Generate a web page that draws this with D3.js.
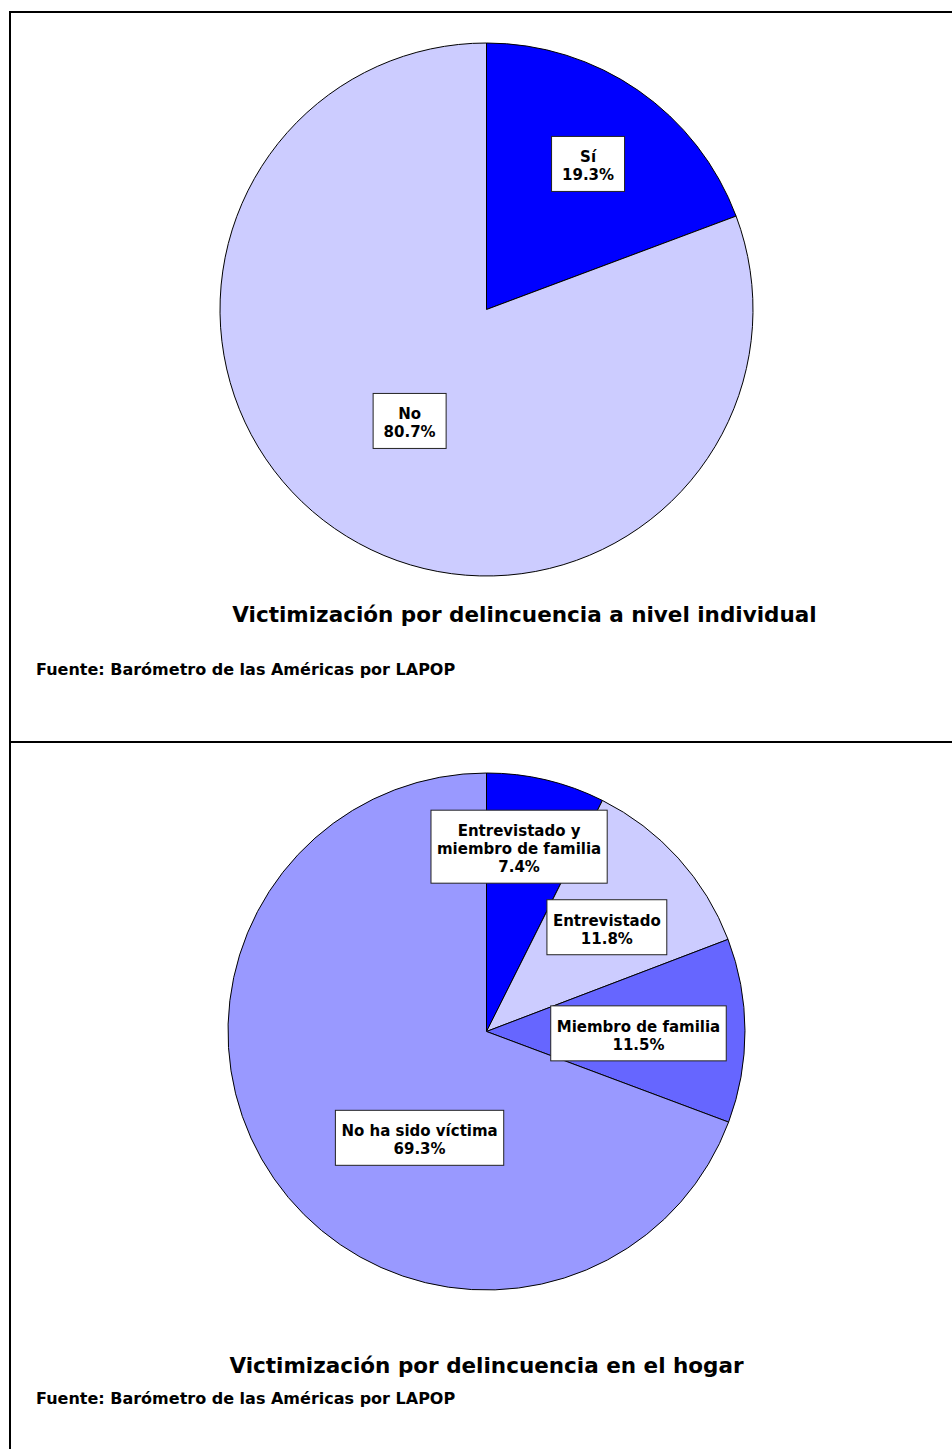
<!DOCTYPE html>
<html>
<head>
<meta charset="utf-8">
<script src="https://cdn.jsdelivr.net/npm/d3@7"></script>
<style>
  html, body { margin: 0; padding: 0; background: #fff; }
  svg { display: block; }
  text { font-family: "DejaVu Sans", Verdana, sans-serif; font-weight: bold; fill: #000; }
</style>
</head>
<body>
<svg id="chart" width="952" height="1449"></svg>
<script>
// ---- Data ----
const pie1Categories = ["Sí", "No"];
const pie1Values = [19.3, 80.7];
const pie1Colors = ["#0000ff", "#ccccff"];
const pie1Title = "Victimización por delincuencia a nivel individual";

const pie2Categories = ["Entrevistado y\nmiembro de familia", "Entrevistado", "Miembro de familia", "No ha sido víctima"];
const pie2Values = [7.4, 11.8, 11.5, 69.3];
const pie2Colors = ["#0000ff", "#ccccff", "#6666ff", "#9999ff"];
const pie2Title = "Victimización por delincuencia en el hogar";

const sourceText = "Fuente: Barómetro de las Américas por LAPOP";

// ---- Layout (styling, not data) ----
const pie1Layout = { cx: 486.5, cy: 309.5, r: 266.5, titleX: 524.5, titleY: 622, srcY: 675,
  labelPos: [{a: 34.9, f: 0.666}, {a: 214.6, f: 0.508}] };
const pie2Layout = { cx: 486.5, cy: 1031.5, r: 258.5, titleX: 486.5, titleY: 1373, srcY: 1404,
  labelPos: [{a: 10, f: 0.726}, {a: 49.1, f: 0.616}, {a: 90.7, f: 0.588}, {a: 212.2, f: 0.486}] };

const svg = d3.select("#chart");

// frame
svg.append("line").attr("x1", 10).attr("x2", 960).attr("y1", 12).attr("y2", 12).attr("stroke", "#000").attr("stroke-width", 2);
svg.append("line").attr("x1", 10).attr("x2", 960).attr("y1", 742).attr("y2", 742).attr("stroke", "#000").attr("stroke-width", 2);
svg.append("line").attr("x1", 10).attr("x2", 10).attr("y1", 11).attr("y2", 1460).attr("stroke", "#000").attr("stroke-width", 2);

function drawPie(categories, values, colors, title, L) {
  const g = svg.append("g").attr("transform", `translate(${L.cx},${L.cy})`);
  const data = categories.map((c, i) => ({ cat: c, value: values[i], color: colors[i] }));
  const pie = d3.pie().value(d => d.value).sort(null);
  const arc = d3.arc().innerRadius(0).outerRadius(L.r);
  const arcs = pie(data);
  g.selectAll("path.slice").data(arcs).enter().append("path")
    .attr("class", "slice")
    .attr("d", arc)
    .attr("fill", d => d.data.color)
    .attr("stroke", "#000")
    .attr("stroke-width", 1);

  const lineH = 18;
  arcs.forEach((d, i) => {
    const lp = L.labelPos[i];
    const [px, py] = d3.pointRadial(lp.a * Math.PI / 180, lp.f * L.r);
    const lines = d.data.cat.split("\n").concat([d3.format(".1f")(d.data.value) + "%"]);
    const lg = g.append("g").attr("transform", `translate(${px},${py})`);
    const rect = lg.append("rect");
    const t = lg.append("text").attr("text-anchor", "middle").style("font-size", "15px");
    const n = lines.length;
    lines.forEach((s, k) => {
      t.append("tspan").attr("x", 0).attr("y", 7.4 + (k - (n - 1) / 2) * lineH).text(s);
    });
    const tw = d3.max(t.selectAll("tspan").nodes(), nd => nd.getComputedTextLength());
    const w = Math.max(tw + 12, 73);
    const h = n * lineH + 19;
    rect.attr("x", -w / 2).attr("y", -h / 2).attr("width", w).attr("height", h)
      .attr("fill", "#fff").attr("stroke", "#222").attr("stroke-width", 1);
  });

  svg.append("text").attr("x", L.titleX).attr("y", L.titleY).attr("text-anchor", "middle")
    .style("font-size", "21.5px").text(title);
  svg.append("text").attr("x", 36).attr("y", L.srcY).style("font-size", "16px").text(sourceText);
}

drawPie(pie1Categories, pie1Values, pie1Colors, pie1Title, pie1Layout);
drawPie(pie2Categories, pie2Values, pie2Colors, pie2Title, pie2Layout);
</script>
</body>
</html>
